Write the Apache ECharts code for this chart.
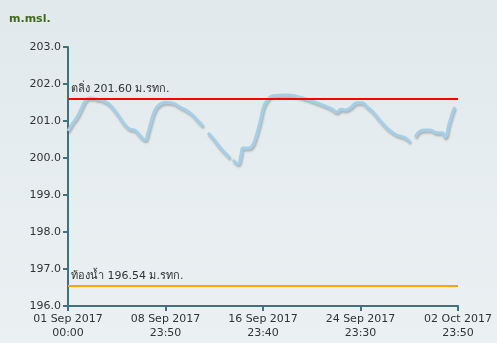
<!DOCTYPE html>
<html>
<head>
<meta charset="utf-8">
<script src="https://cdn.jsdelivr.net/npm/echarts@6/dist/echarts.min.js"></script>
<style>
html,body{margin:0;padding:0;}
#c{width:497px;height:343px;}
</style>
</head>
<body>
<div id="c"></div>
<script>
// Days since 01 Sep 2017 00:00 ('-' marks a gap in the record)
var days = [0,0.33,0.74,1.15,1.48,1.81,2.38,2.95,3.45,4.10,4.68,5.09,5.42,5.66,5.99,6.32,6.56,6.73,7.14,7.55,8.04,8.53,9.19,10.01,10.58,11.08,11.28,11.49,12.06,12.64,13.29,13.42,13.54,13.95,14.19,14.36,14.77,15.10,15.43,15.75,16.08,16.41,16.82,18.05,19.28,20.43,21.09,21.66,22.07,22.40,22.73,23.14,23.71,24.12,24.53,24.94,25.35,25.76,26.17,26.58,26.99,27.49,27.82,28.06,28.27,28.47,28.88,29.29,29.70,30.28,30.69,30.93,31.26,31.59,31.75];
var levels = [200.73,200.92,201.11,201.38,201.57,201.62,201.59,201.54,201.43,201.16,200.89,200.78,200.76,200.70,200.57,200.49,200.68,200.89,201.30,201.46,201.51,201.49,201.38,201.22,201.03,200.86,'-',200.68,200.46,200.22,200.00,'-',199.95,199.84,200.08,200.27,200.27,200.32,200.59,200.97,201.41,201.59,201.68,201.70,201.62,201.49,201.41,201.32,201.24,201.32,201.30,201.35,201.49,201.49,201.38,201.27,201.11,200.95,200.81,200.70,200.62,200.57,200.51,200.43,'-',200.57,200.73,200.76,200.76,200.68,200.68,200.57,200.92,201.27,201.38];
var bankLevel = 201.60;
var bedLevel = 196.54;
var bankLabel = 'ตลิ่ง 201.60 ม.รทก.';
var bedLabel = 'ท้องน้ำ 196.54 ม.รทก.';
var xTickLabels = ['01 Sep 2017\n00:00','08 Sep 2017\n23:50','16 Sep 2017\n23:40','24 Sep 2017\n23:30','02 Oct 2017\n23:50'];
var yUnit = 'm.msl.';

var pts = days.map(function(d,i){return [d, levels[i]];});
var axisColor = '#41707f';
var font = 'DejaVu Sans';
var chart = echarts.init(document.getElementById('c'));
chart.setOption({
  animation:false,
  backgroundColor:{type:'linear',x:0,y:0,x2:0,y2:1,colorStops:[{offset:0,color:'#e1e9ec'},{offset:1,color:'#ebf1f3'}]},
  title:{text:yUnit,left:9,top:14,padding:0,textStyle:{color:'#3e6b1b',fontSize:11,fontWeight:'bold',fontFamily:font}},
  grid:{left:68,right:39,top:47,bottom:37},
  xAxis:{type:'value',min:0,max:32,interval:8,
    axisLine:{lineStyle:{color:axisColor,width:2}},
    axisTick:{length:5,lineStyle:{color:axisColor,width:2}},
    splitLine:{show:false},
    axisLabel:{color:'#333',fontSize:11,fontFamily:font,lineHeight:14,margin:6,
      formatter:function(v){return xTickLabels[Math.round(v/8)];}}},
  yAxis:{type:'value',min:196,max:203,interval:1,
    axisLine:{show:true,lineStyle:{color:axisColor,width:2}},
    axisTick:{show:true,length:5,lineStyle:{color:axisColor,width:2}},
    splitLine:{show:false},
    axisLabel:{color:'#333',fontSize:11,fontFamily:font,margin:7,formatter:function(v){return v.toFixed(1);}}},
  series:[{type:'line',data:pts,smooth:true,showSymbol:false,connectNulls:false,
    lineStyle:{color:'#a5cfe6',width:3,shadowColor:'rgba(0,0,0,0.25)',shadowBlur:2,shadowOffsetX:1,shadowOffsetY:2},
    markLine:{symbol:'none',silent:true,
      data:[
        {yAxis:bankLevel,lineStyle:{color:'#ff0000',width:2,type:'solid'},
         label:{formatter:bankLabel,position:'insideStartTop',distance:[3,4],color:'#333',fontSize:11,fontFamily:font}},
        {yAxis:bedLevel,lineStyle:{color:'#f5a800',width:2,type:'solid'},
         label:{formatter:bedLabel,position:'insideStartTop',distance:[3,4],color:'#333',fontSize:11,fontFamily:font}}
      ]}
  }]
});
</script>
</body>
</html>
